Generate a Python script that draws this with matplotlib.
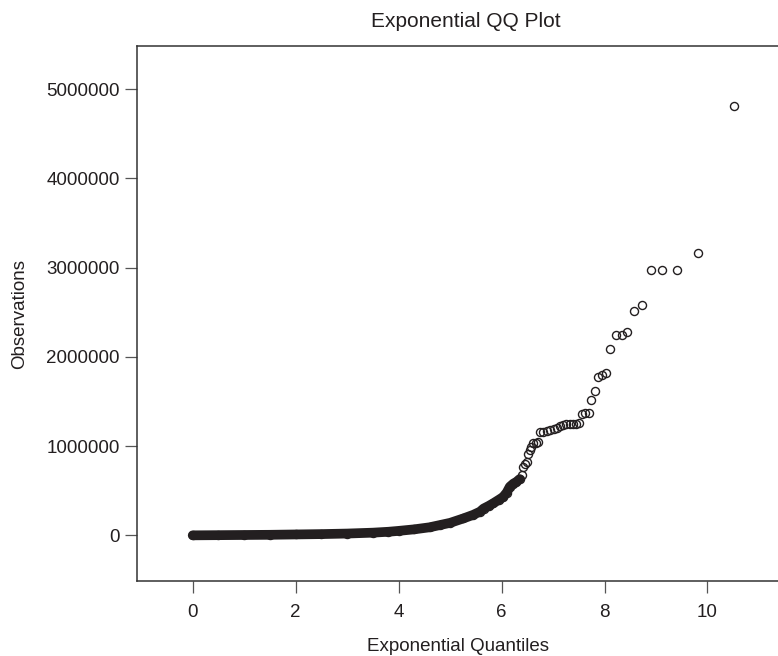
import matplotlib
matplotlib.use("Agg")
import matplotlib.pyplot as plt

# dense part of the QQ curve (exponential quantile, observation)
band_x = [0.0, 0.5, 1.0, 1.5, 2.0, 2.5, 3.0, 3.5, 3.8, 4.0, 4.3, 4.6, 4.8, 5.0,
          5.26, 5.45, 5.58, 5.65, 5.75, 5.84, 5.95, 6.03, 6.1, 6.16, 6.23, 6.29, 6.35]
band_y = [0, 2000, 4000, 6000, 10000, 14000, 20000, 30000, 40000, 50000, 67000,
          90000, 115000, 140000, 190000, 230000, 265000, 300000, 330000, 360000,
          400000, 430000, 480000, 545000, 580000, 600000, 630000]

# upper tail, individual points
tail_x = [6.39, 6.42, 6.45, 6.49, 6.52, 6.55, 6.58, 6.62, 6.66, 6.70,
          6.75, 6.80, 6.88, 6.95, 7.02, 7.08, 7.14, 7.20, 7.26, 7.32, 7.39, 7.45, 7.50,
          7.56, 7.62, 7.69, 7.74, 7.82, 7.87, 7.95, 8.03, 8.11, 8.22, 8.33, 8.43,
          8.57, 8.73, 8.90, 9.12, 9.41, 9.82, 10.52]
tail_y = [676000, 770000, 800000, 825000, 910000, 956000, 990000, 1030000, 1040000, 1050000,
          1160000, 1160000, 1170000, 1180000, 1190000, 1200000, 1220000, 1240000, 1250000,
          1250000, 1250000, 1250000, 1260000,
          1360000, 1370000, 1370000, 1520000, 1620000, 1770000, 1800000, 1816000,
          2085000, 2250000, 2250000, 2280000, 2510000, 2580000, 2970000, 2970000,
          2970000, 3160000, 4810000]

x_ticks = [0, 2, 4, 6, 8, 10]
y_ticks = [0, 1000000, 2000000, 3000000, 4000000, 5000000]

ink = "#231f20"
plt.rcParams["font.family"] = ["Liberation Sans", "DejaVu Sans"]
plt.rcParams["text.color"] = ink

fig = plt.figure(figsize=(7.78, 6.56), dpi=100)
ax = fig.add_axes([0.1765, 0.1143, 0.8235, 0.8156])

# the dense band: thousands of overlapping circles in the original
ax.plot(band_x, band_y, color=ink, lw=7, solid_capstyle="round", solid_joinstyle="round")
ax.plot(band_x + tail_x, band_y + tail_y, ls="none", marker="o", ms=5.8,
        mfc="none", mec=ink, mew=1.0)

ax.set_xlim(-1.076, 11.37)
ax.set_ylim(-512000, 5485000)
ax.set_xticks(x_ticks)
ax.set_xticklabels([str(v) for v in x_ticks])
ax.set_yticks(y_ticks)
ax.set_yticklabels([str(v) for v in y_ticks])

for s in ["left", "top", "bottom"]:
    ax.spines[s].set_color("#333333")
    ax.spines[s].set_linewidth(1.1)
ax.spines["right"].set_visible(False)

ax.tick_params(axis="both", direction="out", length=8.5, width=0.9, color="#555555",
               labelsize=13.5, labelcolor=ink)
ax.tick_params(axis="x", pad=8)
ax.tick_params(axis="y", pad=4)

ax.set_xlabel("Exponential Quantiles", fontsize=13.5, color=ink, labelpad=12)
ax.set_ylabel("Observations", fontsize=13.5, color=ink, labelpad=13)
ax.set_title("Exponential QQ Plot", fontsize=15, color=ink, pad=14,
             x=(465.5 - 137.3) / (778 - 137.3))

fig.savefig("out.png", dpi=100)
